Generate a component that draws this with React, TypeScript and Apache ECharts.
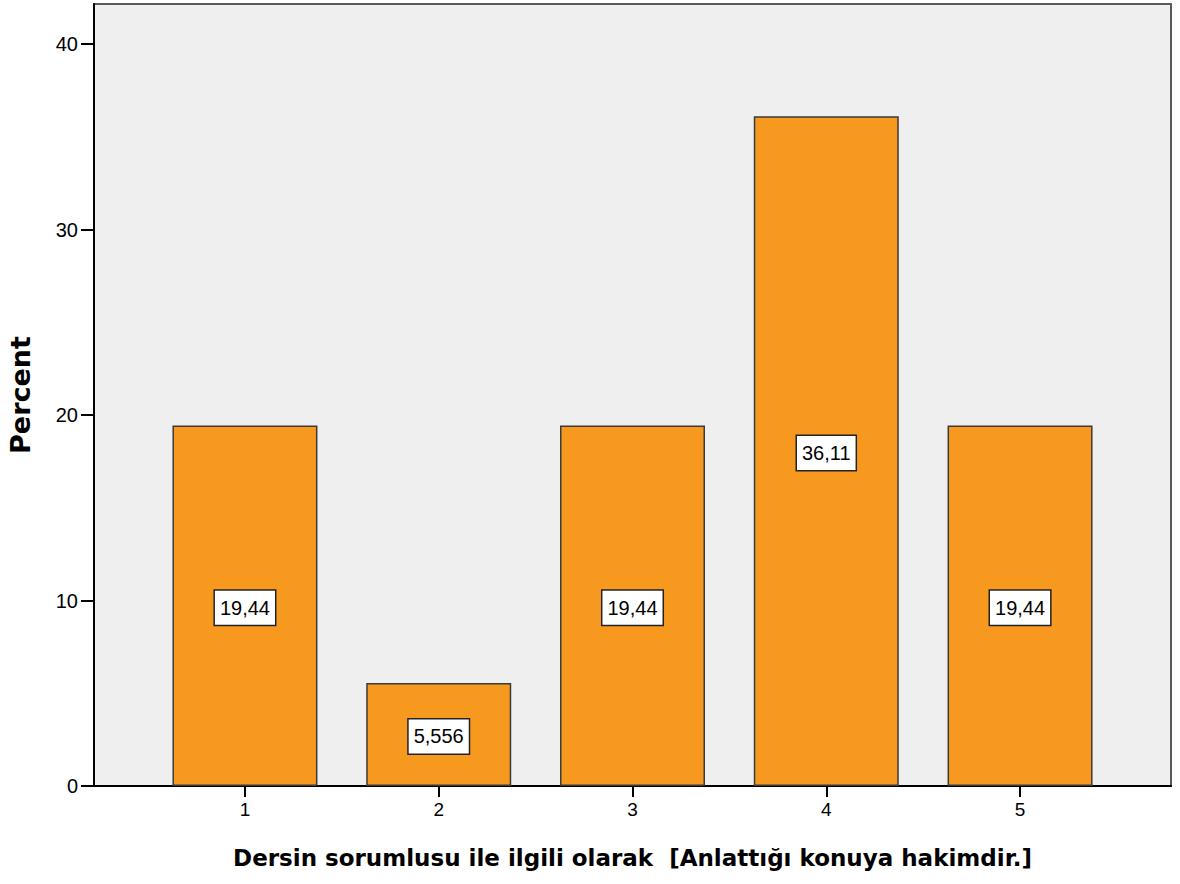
import React, { useEffect, useRef } from "react";
import * as echarts from "echarts";

const categories = [1, 2, 3, 4, 5];
const percents = [19.44, 5.556, 19.44, 36.11, 19.44];
const yTicks = [0, 10, 20, 30, 40];
const xTitle = "Dersin sorumlusu ile ilgili olarak  [Anlattığı konuya hakimdir.]";
const yTitle = "Percent";

export default function App() {
  const ref = useRef<HTMLDivElement>(null);
  useEffect(() => {
    document.body.style.margin = "0";
    const chart = echarts.init(ref.current!, null, { renderer: "svg" });
    const numFont = "'Liberation Sans', Arial, sans-serif";
    chart.setOption({
      animation: false,
      backgroundColor: "#ffffff",
      grid: {
        left: 94,
        right: 9,
        top: 4,
        bottom: 98,
        containLabel: false,
        outerBoundsMode: "none",
        show: true,
        backgroundColor: "#EFEFEF",
        borderColor: "#5a5a5a",
        borderWidth: 2,
      },
      xAxis: {
        type: "value",
        min: 0.221,
        max: 5.779,
        name: xTitle,
        nameLocation: "middle",
        nameGap: 60,
        nameTextStyle: {
          fontFamily: "'DejaVu Sans', sans-serif",
          fontWeight: "bold",
          fontSize: 23,
          color: "#000",
        },
        splitLine: { show: false },
        axisLine: { show: true, lineStyle: { color: "#000", width: 2 } },
        axisTick: {
          show: true,
          length: 11,
          customValues: categories,
          lineStyle: { color: "#000", width: 2 },
        },
        axisLabel: {
          customValues: categories,
          margin: 14,
          fontFamily: numFont,
          fontSize: 19,
          color: "#000",
          formatter: (v: number) => String(v),
        },
      },
      yAxis: {
        type: "value",
        min: 0,
        max: 42.16,
        name: yTitle,
        nameLocation: "middle",
        nameGap: 60,
        nameTextStyle: {
          fontFamily: "'DejaVu Sans', sans-serif",
          fontWeight: "bold",
          fontSize: 27,
          color: "#000",
        },
        splitLine: { show: false },
        axisLine: { show: true, lineStyle: { color: "#000", width: 2 } },
        axisTick: {
          show: true,
          length: 13,
          customValues: yTicks,
          lineStyle: { color: "#000", width: 2 },
        },
        axisLabel: {
          customValues: yTicks,
          margin: 16,
          fontFamily: numFont,
          fontSize: 20,
          color: "#000",
        },
      },
      series: [
        {
          type: "bar",
          barWidth: 145,
          data: categories.map((c, i) => [c, percents[i]]),
          itemStyle: {
            color: "#F7991F",
            borderColor: "#3a3a3a",
            borderWidth: 1.5,
          },
          label: {
            show: true,
            position: "inside",
            offset: [0, 2],
            formatter: (p: any) => String(p.value[1]).replace(".", ","),
            fontFamily: numFont,
            fontSize: 20,
            color: "#000",
            backgroundColor: "#ffffff",
            borderColor: "#222",
            borderWidth: 1.5,
            padding: [7, 5],
          },
        },
      ],
    });
    return () => chart.dispose();
  }, []);
  return <div ref={ref} style={{ width: 1180, height: 884 }} />;
}
